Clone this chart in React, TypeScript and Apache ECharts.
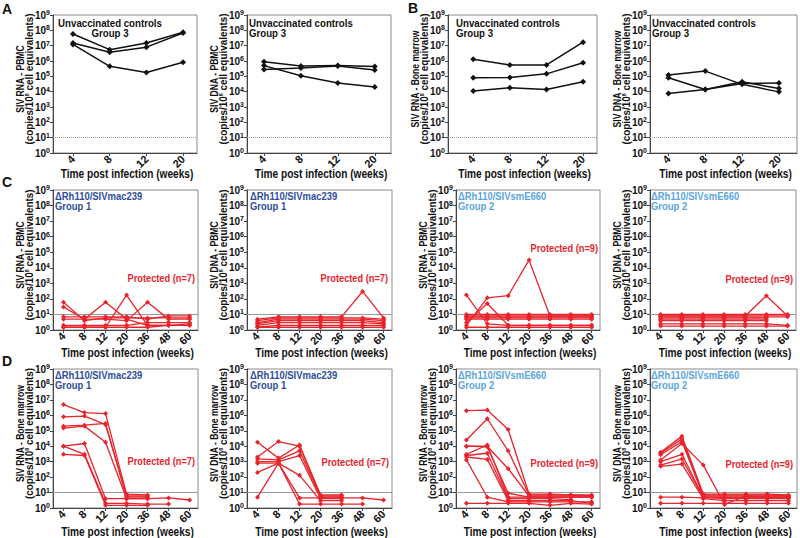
import React, { useEffect, useRef } from 'react';
import * as echarts from 'echarts';

// ---------- data ----------
const weeksShort = ['4', '8', '12', '20'];
const weeksLong = ['4', '8', '12', '20', '36', '48', '60'];

// A: unvaccinated controls, PBMC
const controlRnaPbmc = [
  [5.8e7, 5.5e6, 1.5e7, 7.4e7],
  [1.5e7, 3.7e6, 8e6, 6.7e7],
  [1.2e7, 4.5e5, 1.8e5, 8.2e5],
];
const controlDnaPbmc = [
  [9e5, 4.8e5, 5e5, 4.3e5],
  [2.8e5, 3.5e5, 4.8e5, 2.6e5],
  [5e5, 1.1e5, 3.7e4, 2e4],
];
// B: unvaccinated controls, bone marrow
const controlRnaBm = [
  [1.3e6, 5.5e5, 5.5e5, 1.7e7],
  [8e4, 8.3e4, 1.45e5, 7.6e5],
  [1.1e4, 1.8e4, 1.4e4, 4.4e4],
];
const controlDnaBm = [
  [1.2e5, 2.2e5, 3e4, 9.7e3],
  [8e4, 1.4e4, 4.4e4, 1.6e4],
  [7.6e3, 1.4e4, 3.4e4, 3.7e4],
];
// C: PBMC, vaccinated
const g1RnaPbmc = [
  [60, 4, 6, 6, 6, 6, 6],
  [30, 5, 60, 5, 2, 2, 2],
  [1.5, 1.5, 1.5, 175, 2, 2, 2.5],
  [5, 5, 5, 4, 60, 5, 5],
  [7, 7, 7, 7, 5, 8, 8],
  [2, 2, 2, 2, 3, 3, 3],
  [1.5, 1.5, 1.5, 1.5, 1.5, 2, 2],
];
const g1DnaPbmc = [
  [5, 7, 7, 7, 7, 300, 6],
  [4, 6, 6, 6, 6, 6, 5],
  [3, 5, 5, 5, 5, 5, 4],
  [2.5, 4, 4, 4, 4, 4, 3],
  [2, 3, 3, 3, 3, 3, 2.5],
  [1.5, 2, 2, 2, 2, 2, 2],
  [1.5, 1.5, 1.5, 1.5, 1.5, 1.5, 1.5],
];
const g2RnaPbmc = [
  [175, 2.5, 2, 2, 2, 2, 2],
  [2, 117, 160, 3.2e4, 8, 8, 8],
  [3, 50, 2, 2, 2, 2, 2],
  [10, 10, 10, 10, 10, 10, 10],
  [8, 8, 8, 8, 8, 8, 8],
  [7, 7, 7, 7, 7, 7, 7],
  [6, 6, 6, 6, 6, 6, 6],
  [5, 5, 5, 5, 5, 5, 5],
  [1.5, 1.5, 1.5, 1.5, 1.5, 1.5, 1.5],
];
const g2DnaPbmc = [
  [8, 8, 8, 8, 8, 160, 8],
  [10, 10, 10, 10, 10, 10, 10],
  [9, 9, 9, 9, 9, 9, 9],
  [7, 7, 7, 7, 7, 7, 7],
  [6, 6, 6, 6, 6, 6, null],
  [5, 5, 5, 5, 5, 5, null],
  [4, 4, 4, 4, 4, 4, null],
  [2.5, 2.5, 2.5, 2.5, 2.5, 2.5, 2],
  [1.8, 1.8, 1.8, 1.8, 1.8, 1.8, 1.8],
];
// D: bone marrow, vaccinated
const g1RnaBm = [
  [5e6, 1.5e6, 1.3e6, 8, 7, null, null],
  [8e5, 9e5, 2.5e5, 6, 6, null, null],
  [2e5, 2.3e5, 3e5, 5, 5, null, null],
  [1.5e5, 2e5, 1.8e4, 4, 4, null, null],
  [1e4, 1.5e4, 4, 4, 4, 4.5, 3.3],
  [1e4, 3e3, 2, 2, 1.8, 1.8, null],
  [3e3, 2.5e3, 1.5, 1.5, 1.5, null, null],
];
const g1DnaBm = [
  [1.8e4, 1.7e3, 1.2e4, 7, 7, null, null],
  [2e3, 2e4, 1e4, 6, 6, null, null],
  [1.5e3, 1.3e3, 5e3, 5, 5, null, null],
  [1e3, 1e3, 2.5e3, 4, 4, null, null],
  [2e2, 8e2, 1.3e2, 3, 3, null, null],
  [8e2, 8e2, 4.5, 4.5, 4.5, 4.5, 3.3],
  [5, 8e2, 1.8, 1.8, 1.8, 1.8, null],
];
const g2RnaBm = [
  [2e6, 2.2e6, 1.2e5, 8, 8, 7, 7],
  [2.5e4, 6e5, 5e3, 7, 7, 7, 6],
  [1e4, 1e4, 3.5e2, 6, 6, 6, 6],
  [1e4, 9e3, 9, 5, 5, 5, 5],
  [3e3, 1.2e4, 5, 5, 5, 5, 5],
  [2.5e3, 3.5e3, 4, 4, 4, 3.5, null],
  [2e3, 1.4e3, 3, 3, 3, 3, 2],
  [1.3e3, 5, 2.5, 2.5, 2.5, 2.5, 2.5],
  [2, 2, 2, 2, 1.5, 2, 1.8],
];
const g2DnaBm = [
  [4e3, 4.5e4, 8, 8, 8, 8, 7],
  [3.5e3, 3e4, 7, 7, 7, 7, 6],
  [2.8e3, 2e4, 6, 6, 6, 6, 6],
  [1.3e3, 1.5e4, 6e2, 1.7, 6, 5, 5],
  [1e3, 3e3, 5, 5, 5, 5, 5],
  [6e2, 1.5e3, 5, 4, 4, 4, 4],
  [5e2, 7e2, 4, 3, 3, 3, 3],
  [5, 5, 4.5, 4.5, 4.5, 4.5, 4.5],
  [2, 2, 2, 2, 2, 2, 2],
];

const xTitle = 'Time post infection (weeks)';
const yUnit = '(copies/10{s|8} cell equivalents)';

// ---------- styling / layout ----------
const FONT = '"Liberation Sans",Arial,Helvetica,sans-serif';
const RED = '#e8242c';
const BLACK = '#111111';
const BLUE1 = '#2e4d9e';
const BLUE2 = '#5aa6dd';

type Panel = {
  box: [number, number, number, number]; // left, right, top, bottom
  xr: [number, number];
  cats: string[];
  lines: (number | null)[][];
  color: string;
  yTitle: string;
  dotted: boolean;
};

const R1 = [15, 153];
const R2 = [190, 330];
const R3 = [369, 508];

const panels: Panel[] = [
  { box: [53, 197, R1[0], R1[1]], xr: [-0.545, 3.38], cats: weeksShort, lines: controlRnaPbmc, color: BLACK, yTitle: 'SIV RNA - PBMC', dotted: true },
  { box: [247, 391, R1[0], R1[1]], xr: [-0.46, 3.44], cats: weeksShort, lines: controlDnaPbmc, color: BLACK, yTitle: 'SIV DNA - PBMC', dotted: true },
  { box: [448, 597, R1[0], R1[1]], xr: [-0.69, 3.38], cats: weeksShort, lines: controlRnaBm, color: BLACK, yTitle: 'SIV RNA - Bone marrow', dotted: true },
  { box: [650, 797, R1[0], R1[1]], xr: [-0.5, 3.49], cats: weeksShort, lines: controlDnaBm, color: BLACK, yTitle: 'SIV DNA - Bone marrow', dotted: true },
  { box: [53, 198, R2[0], R2[1]], xr: [-0.5, 6.4], cats: weeksLong, lines: g1RnaPbmc, color: RED, yTitle: 'SIV RNA - PBMC', dotted: false },
  { box: [247, 392, R2[0], R2[1]], xr: [-0.5, 6.4], cats: weeksLong, lines: g1DnaPbmc, color: RED, yTitle: 'SIV DNA - PBMC', dotted: false },
  { box: [456, 600, R2[0], R2[1]], xr: [-0.5, 6.4], cats: weeksLong, lines: g2RnaPbmc, color: RED, yTitle: 'SIV RNA - PBMC', dotted: false },
  { box: [650, 796, R2[0], R2[1]], xr: [-0.5, 6.4], cats: weeksLong, lines: g2DnaPbmc, color: RED, yTitle: 'SIV DNA - PBMC', dotted: false },
  { box: [53, 198, R3[0], R3[1]], xr: [-0.5, 6.4], cats: weeksLong, lines: g1RnaBm, color: RED, yTitle: 'SIV RNA - Bone marrow', dotted: false },
  { box: [247, 392, R3[0], R3[1]], xr: [-0.5, 6.4], cats: weeksLong, lines: g1DnaBm, color: RED, yTitle: 'SIV DNA - Bone marrow', dotted: false },
  { box: [456, 600, R3[0], R3[1]], xr: [-0.5, 6.4], cats: weeksLong, lines: g2RnaBm, color: RED, yTitle: 'SIV RNA - Bone marrow', dotted: false },
  { box: [650, 797, R3[0], R3[1]], xr: [-0.5, 6.4], cats: weeksLong, lines: g2DnaBm, color: RED, yTitle: 'SIV DNA - Bone marrow', dotted: false },
];

function txt(text: string, x: number, y: number, opts: any = {}) {
  const size = opts.size || 11;
  return {
    type: 'text',
    x,
    y,
    rotation: opts.rot || 0,
    scaleX: opts.sx || 1,
    silent: true,
    z: 10,
    style: {
      text,
      fill: opts.fill || BLACK,
      font: `bold ${size}px ${FONT}`,
      align: opts.align || 'left',
      verticalAlign: 'middle',
      lineHeight: opts.lh || 10,
      rich: {
        s: { fontSize: 6, fontWeight: 'bold', fontFamily: FONT, fill: opts.fill || BLACK, verticalAlign: 'top', lineHeight: 10 },
      },
    },
  };
}

function buildOption() {
  const grid: any[] = [];
  const xAxis: any[] = [];
  const yAxis: any[] = [];
  const series: any[] = [];
  const graphic: any[] = [];
  panels.forEach((p, i) => {
    const [l, r, t, b] = p.box;
    grid.push({ left: l, top: t, width: r - l, height: b - t, show: true, borderColor: '#8a8a8a', borderWidth: 1, backgroundColor: 'transparent' });
    const idx = p.cats.map((_, j) => j);
    xAxis.push({
      type: 'value',
      gridIndex: i,
      min: p.xr[0],
      max: p.xr[1],
      splitLine: { show: false },
      axisLine: { show: true, onZero: false, lineStyle: { color: '#444' } },
      axisTick: { show: true, customValues: idx, length: 3, lineStyle: { color: '#444' } },
      axisLabel: {
        customValues: idx,
        formatter: (v: number) => p.cats[Math.round(v)],
        rotate: 45,
        margin: 4,
        fontFamily: FONT,
        fontWeight: 'bold',
        fontSize: 11,
        color: BLACK,
      },
    });
    yAxis.push({
      type: 'log',
      logBase: 10,
      gridIndex: i,
      min: 1,
      max: 1e9,
      interval: 1,
      splitLine: { show: false },
      axisLine: { show: true, onZero: false, lineStyle: { color: '#444' } },
      axisTick: { show: true, length: 3, lineStyle: { color: '#444' } },
      axisLabel: {
        margin: 3,
        formatter: (v: number) => `{a|10}{s|${Math.round(Math.log10(v))}}`,
        rich: {
          a: { fontFamily: FONT, fontWeight: 'bold', fontSize: 10, color: BLACK, lineHeight: 12 },
          s: { fontFamily: FONT, fontWeight: 'bold', fontSize: 7, color: BLACK, verticalAlign: 'top' },
        },
      },
    });
    p.lines.forEach((ln, k) => {
      const data = ln.map((v, j) => (v == null ? null : [j, v])).filter((d) => d !== null);
      const s: any = {
        type: 'line',
        xAxisIndex: i,
        yAxisIndex: i,
        data,
        symbol: 'diamond',
        symbolSize: p.color === BLACK ? 6 : 5,
        lineStyle: { color: p.color, width: p.color === BLACK ? 1.5 : 1.3 },
        itemStyle: { color: p.color },
        z: 3,
      };
      if (k === 0) {
        s.markLine = {
          silent: true,
          symbol: 'none',
          label: { show: false },
          lineStyle: { color: '#999', width: 1, type: p.dotted ? 'dotted' : 'solid' },
          data: [{ yAxis: 10 }],
          z: 1,
        };
      }
      series.push(s);
    });
    // axis titles
    const cy = (t + b) / 2 - 5;
    const xTitleY = i < 4 ? 173 : i < 8 ? 352 : 531;
    graphic.push(txt(xTitle, (l + r) / 2 + 2, xTitleY, { size: 13, sx: 0.78, align: 'center' }));
    graphic.push(txt(p.yTitle, l - 33, cy, { size: 11, sx: 0.78, align: 'center', rot: Math.PI / 2 }));
    graphic.push(txt(yUnit, l - 24, cy, { size: 11, sx: 0.9, align: 'center', rot: Math.PI / 2 }));
  });

  graphic.push(
    txt('A', 2, 9, { size: 14 }),
    txt('B', 408, 8, { size: 14 }),
    txt('C', 2, 182, { size: 14 }),
    txt('D', 2, 361, { size: 14 }),
    txt('Unvaccinated controls\nGroup 3', 110, 28, { align: 'center', sx: 0.88 }),
    txt('Unvaccinated controls\nGroup 3', 249, 28, { sx: 0.88 }),
    txt('Unvaccinated controls\nGroup 3', 456, 28, { sx: 0.88 }),
    txt('Unvaccinated controls\nGroup 3', 652, 28, { sx: 0.88 }),
    txt('ΔRh110/SIVmac239\nGroup 1', 55, 201, { fill: BLUE1, sx: 0.86 }),
    txt('ΔRh110/SIVmac239\nGroup 1', 250, 201, { fill: BLUE1, sx: 0.86 }),
    txt('ΔRh110/SIVsmE660\nGroup 2', 458, 201, { fill: BLUE2, sx: 0.86 }),
    txt('ΔRh110/SIVsmE660\nGroup 2', 651, 201, { fill: BLUE2, sx: 0.86 }),
    txt('ΔRh110/SIVmac239\nGroup 1', 55, 380, { fill: BLUE1, sx: 0.86 }),
    txt('ΔRh110/SIVmac239\nGroup 1', 250, 380, { fill: BLUE1, sx: 0.86 }),
    txt('ΔRh110/SIVsmE660\nGroup 2', 458, 380, { fill: BLUE2, sx: 0.86 }),
    txt('ΔRh110/SIVsmE660\nGroup 2', 651, 380, { fill: BLUE2, sx: 0.86 }),
    txt('Protected (n=7)', 195, 278, { fill: RED, size: 11, sx: 0.84, align: 'right' }),
    txt('Protected (n=7)', 388, 278, { fill: RED, size: 11, sx: 0.84, align: 'right' }),
    txt('Protected (n=9)', 598, 248, { fill: RED, size: 11, sx: 0.84, align: 'right' }),
    txt('Protected (n=9)', 793, 279, { fill: RED, size: 11, sx: 0.84, align: 'right' }),
    txt('Protected (n=7)', 195, 461, { fill: RED, size: 11, sx: 0.84, align: 'right' }),
    txt('Protected (n=7)', 389, 462, { fill: RED, size: 11, sx: 0.84, align: 'right' }),
    txt('Protected (n=9)', 598, 463, { fill: RED, size: 11, sx: 0.84, align: 'right' }),
    txt('Protected (n=9)', 793, 464, { fill: RED, size: 11, sx: 0.84, align: 'right' }),
  );

  return {
    animation: false,
    backgroundColor: '#ffffff',
    grid,
    xAxis,
    yAxis,
    series,
    graphic,
  };
}

export default function App() {
  const ref = useRef<HTMLDivElement>(null);
  useEffect(() => {
    if (!ref.current) return;
    const chart = echarts.init(ref.current, undefined, { renderer: 'svg' });
    chart.setOption(buildOption() as any);
    return () => chart.dispose();
  }, []);
  return <div ref={ref} style={{ position: 'absolute', left: 0, top: 0, width: 800, height: 538 }} />;
}
